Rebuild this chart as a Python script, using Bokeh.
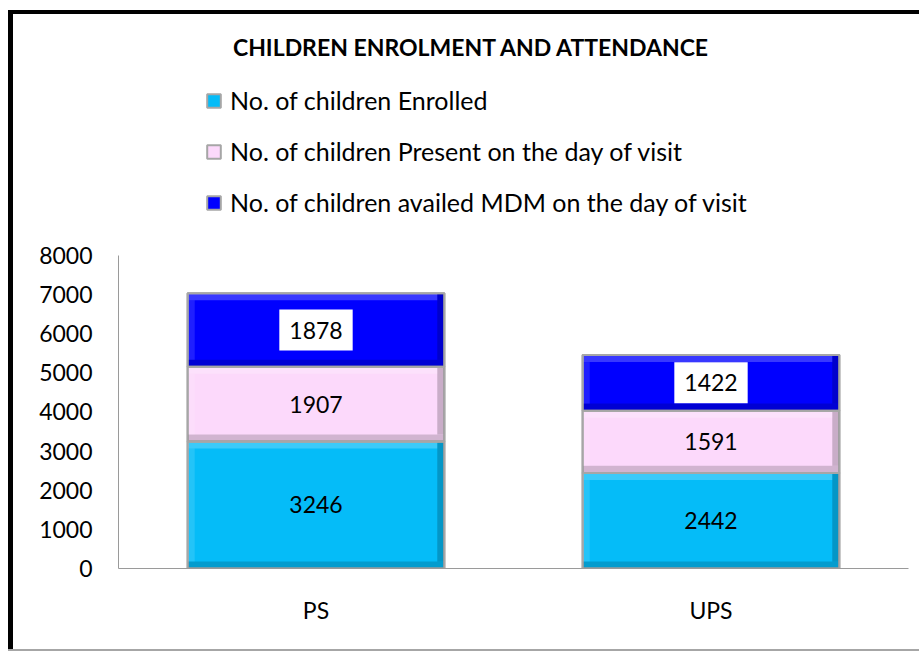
import numpy as np
from bokeh.plotting import figure
from bokeh.models import Range1d, FactorRange, Label, FixedTicker, ColumnDataSource
from bokeh.core.properties import value
from bokeh.embed import file_html
from bokeh.resources import INLINE

# ---- data ----
categories = ["PS", "UPS"]
enrolled = [3246, 2442]
present = [1907, 1591]
availed_mdm = [1878, 1422]
series_names = [
    "No. of children Enrolled",
    "No. of children Present on the day of visit",
    "No. of children availed MDM on the day of visit",
]
y_ticks = [0, 1000, 2000, 3000, 4000, 5000, 6000, 7000, 8000]
title_text = "CHILDREN ENROLMENT AND ATTENDANCE"

# ---- styles ----
fill_colors = ["#05BCF8", "#FCD9FB", "#0000FF"]
FONT = "Lato"
BAR_W = 0.65
BEV_X = 0.018   # bevel width in category units (~7px)
BEV_Y = 180     # bevel height in value units (~7px)

p = figure(
    x_range=FactorRange(*categories, range_padding=0),
    y_range=Range1d(0, 14154),
    width=906, height=635,
    output_backend="svg", toolbar_location=None,
    min_border_left=105, min_border_right=11, min_border_top=0, min_border_bottom=81,
)
p.margin = (14, 0, 0, 13)
p.styles = {"box-shadow": "-5px 0 0 0 black, 0 -4px 0 0 black, -5px -4px 0 0 black, "
                          "0 2px 0 0 #a6a6a6, -5px 2px 0 0 #a6a6a6"}
p.outline_line_color = None
p.xgrid.visible = False
p.ygrid.visible = False
p.background_fill_color = "white"
p.border_fill_color = "white"

centers = np.arange(len(categories)) + 0.5
series = [enrolled, present, availed_mdm]
bottoms = np.zeros(len(categories))
for vals, name, fc in zip(series, series_names, fill_colors):
    vals = np.array(vals, dtype=float)
    tops = bottoms + vals
    src = ColumnDataSource(dict(x=categories, bottom=bottoms.copy(), top=tops,
                                mid=(bottoms + tops) / 2, lab=[str(int(v)) for v in vals]))
    p.vbar(x="x", bottom="bottom", top="top", width=BAR_W, source=src,
           fill_color=fc, line_color="#A6A6A6", line_width=2, legend_label=name)
    # bevel shading
    left = centers - BAR_W / 2
    right = centers + BAR_W / 2
    p.quad(left=left, right=right, bottom=bottoms, top=bottoms + BEV_Y,
           fill_color="black", fill_alpha=0.17, line_color=None)
    p.quad(left=right - BEV_X, right=right, bottom=bottoms + BEV_Y, top=tops,
           fill_color="black", fill_alpha=0.2, line_color=None)
    p.quad(left=left, right=right - BEV_X, bottom=tops - BEV_Y, top=tops,
           fill_color="white", fill_alpha=0.22, line_color=None)
    p.quad(left=left, right=left + BEV_X, bottom=bottoms + BEV_Y, top=tops - BEV_Y,
           fill_color="white", fill_alpha=0.12, line_color=None)
    p.quad(left=left, right=right, bottom=bottoms, top=tops,
           fill_color=None, line_color="#A6A6A6", line_width=2)
    if name == series_names[2]:
        p.text(x="x", y="mid", text="lab", source=src, text_align="center",
               text_baseline="middle", text_font=value(FONT), text_font_size="23px",
               text_color="black", background_fill_color="white", padding=(10, 12))
    else:
        p.text(x="x", y="mid", text="lab", source=src, text_align="center",
               text_baseline="middle", text_font=value(FONT), text_font_size="23px",
               text_color="black")
    bottoms = tops

# axes
p.yaxis.bounds = (0, 8000)
p.yaxis.ticker = FixedTicker(ticks=y_ticks)
for ax in (p.xaxis[0], p.yaxis[0]):
    ax.major_tick_line_color = None
    ax.minor_tick_line_color = None
    ax.major_tick_out = 0
    ax.major_tick_in = 0
    ax.axis_line_color = "#9A9A9A"
    ax.axis_line_width = 1
    ax.major_label_text_font = FONT
    ax.major_label_text_font_size = "23px"
    ax.major_label_text_color = "black"
p.yaxis.major_label_standoff = 26
p.xaxis.major_label_standoff = 27

# title as label
p.add_layout(Label(x=0.894, y=13311, text=title_text, text_align="center",
                   text_baseline="middle", text_font=FONT, text_font_style="bold",
                   text_font_size="23px", text_color="black"))

# legend
lg = p.legend[0]
lg.location = (87, 351)
lg.padding = 0
lg.margin = 0
lg.border_line_color = None
lg.background_fill_alpha = 0
lg.label_text_font = FONT
lg.label_text_font_size = "25px"
lg.label_text_color = "black"
lg.label_height = 28
lg.glyph_height = 17
lg.glyph_width = 17
lg.spacing = 21
lg.label_standoff = 8

open("out.html", "w").write(file_html(p, INLINE))
